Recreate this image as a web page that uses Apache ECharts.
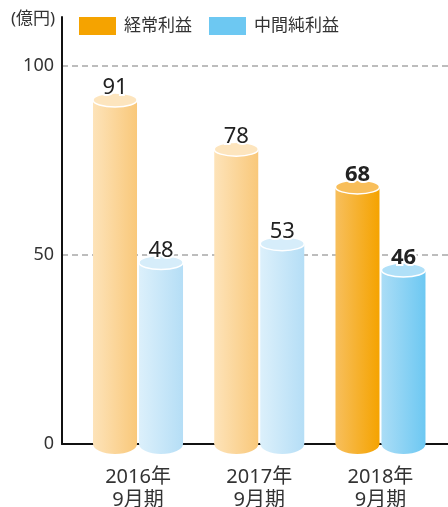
<!DOCTYPE html>
<html><head><meta charset="utf-8">
<script src="https://cdn.jsdelivr.net/npm/echarts@6/dist/echarts.min.js"></script>
<style>html,body{margin:0;padding:0;background:#fff}#c{width:448px;height:507px}</style>
</head><body><div id="c"></div>
<script>
const categories = ['2016年\n9月期', '2017年\n9月期', '2018年\n9月期'];
const ordinaryProfit = [91, 78, 68];
const netProfit = [48, 53, 46];
const seriesNames = ['経常利益', '中間純利益'];
const yTicks = [0, 50, 100];
const unitLabel = '(億円)';

const FONT = "'Noto Sans', 'Noto Sans CJK JP', sans-serif";
const palettes = [
  { // orange
    light: { l: '#fde3b9', r: '#f9c87a', top: '#fde5be' },
    strong: { l: '#f7bf5d', r: '#f5a300', top: '#f8be5a' },
    legend: '#f5a300'
  },
  { // blue
    light: { l: '#dcf0fb', r: '#b5def6', top: '#d6edfa' },
    strong: { l: '#abddf6', r: '#6dc8f2', top: '#b0e0f8' },
    legend: '#6dc8f2'
  }
];

function makeRender(sIdx) {
  return function (params, api) {
    const cat = api.value(0), v = api.value(1);
    const top = api.coord([cat, v]);
    const base = api.coord([cat, 0]);
    const offset = sIdx === 0 ? -23 : 23;
    const cx = top[0] + offset;
    const w = 44, rx = 22, ryTop = 7, ryBot = 10;
    const strong = params.dataIndex === categories.length - 1;
    const pal = strong ? palettes[sIdx].strong : palettes[sIdx].light;
    const grad = new echarts.graphic.LinearGradient(0, 0, 1, 0, [
      { offset: 0, color: pal.l }, { offset: 1, color: pal.r }
    ]);
    return {
      type: 'group',
      children: [
        { type: 'ellipse', shape: { cx: cx, cy: base[1], rx: rx, ry: ryBot }, style: { fill: grad } },
        { type: 'rect', shape: { x: cx - w / 2, y: top[1], width: w, height: base[1] - top[1] }, style: { fill: grad } },
        { type: 'ellipse', shape: { cx: cx, cy: top[1], rx: rx, ry: ryTop }, style: { fill: pal.top, stroke: '#fff', lineWidth: 1.5 } },
        { type: 'text', x: cx, y: top[1] - 12, style: {
            text: String(v), align: 'center', verticalAlign: 'middle',
            font: (strong ? 'bold ' : '') + '22px ' + FONT,
            fill: '#222', stroke: '#fff', lineWidth: 4
          }, z2: 10 }
      ]
    };
  };
}

const chart = echarts.init(document.getElementById('c'), null, { renderer: 'canvas' });
chart.setOption({
  animation: false,
  backgroundColor: '#fff',
  title: { text: unitLabel, left: 11, top: 11, padding: 0,
    textStyle: { fontSize: 17, fontWeight: 'normal', color: '#333', fontFamily: FONT } },
  legend: {
    left: 79, top: 17, padding: 0, itemWidth: 37, itemHeight: 18, itemGap: 17, icon: 'rect',
    textStyle: { fontSize: 17, color: '#333', fontFamily: FONT, padding: [0, 0, 0, 3] },
    data: [
      { name: seriesNames[0], itemStyle: { color: palettes[0].legend } },
      { name: seriesNames[1], itemStyle: { color: palettes[1].legend } }
    ]
  },
  grid: [
    { left: 62, right: 0, top: 17, bottom: 63, containLabel: false, outerBoundsMode: 'none' },
    { left: 62, right: 0, top: 66, bottom: 63, containLabel: false, outerBoundsMode: 'none' },
    { left: 77.4, right: 6.9, top: 66, bottom: 63, containLabel: false, outerBoundsMode: 'none' }
  ],
  xAxis: [
    { gridIndex: 0, type: 'category', data: categories, z: 1,
      axisLine: { show: true, lineStyle: { color: '#111', width: 2 } },
      axisTick: { show: false }, axisLabel: { show: false }, splitLine: { show: false } },
    { gridIndex: 1, type: 'value', show: false },
    { gridIndex: 2, type: 'category', data: categories,
      axisLine: { show: false }, axisTick: { show: false },
      axisLabel: { margin: 22, fontSize: 20, lineHeight: 23, color: '#333', fontFamily: FONT } }
  ],
  yAxis: [
    { gridIndex: 0, type: 'value', min: 0, max: 113, z: 1,
      axisLine: { show: true, lineStyle: { color: '#111', width: 2 } },
      axisTick: { show: false }, axisLabel: { show: false }, splitLine: { show: false } },
    { gridIndex: 1, type: 'value', min: yTicks[0], max: yTicks[yTicks.length - 1], interval: yTicks[1] - yTicks[0],
      axisLine: { show: false }, axisTick: { show: false },
      axisLabel: { margin: 8, fontSize: 18, color: '#333', fontFamily: FONT },
      splitLine: { show: true, lineStyle: { color: '#a8a8a8', width: 1.5, type: [6, 4] } } },
    { gridIndex: 2, type: 'value', min: yTicks[0], max: yTicks[yTicks.length - 1], show: false }
  ],
  series: [
    { name: seriesNames[0], type: 'custom', xAxisIndex: 2, yAxisIndex: 2, clip: false,
      itemStyle: { color: palettes[0].legend }, renderItem: makeRender(0),
      data: ordinaryProfit.map((v, i) => [i, v]) },
    { name: seriesNames[1], type: 'custom', xAxisIndex: 2, yAxisIndex: 2, clip: false,
      itemStyle: { color: palettes[1].legend }, renderItem: makeRender(1),
      data: netProfit.map((v, i) => [i, v]) }
  ]
});
</script></body></html>
